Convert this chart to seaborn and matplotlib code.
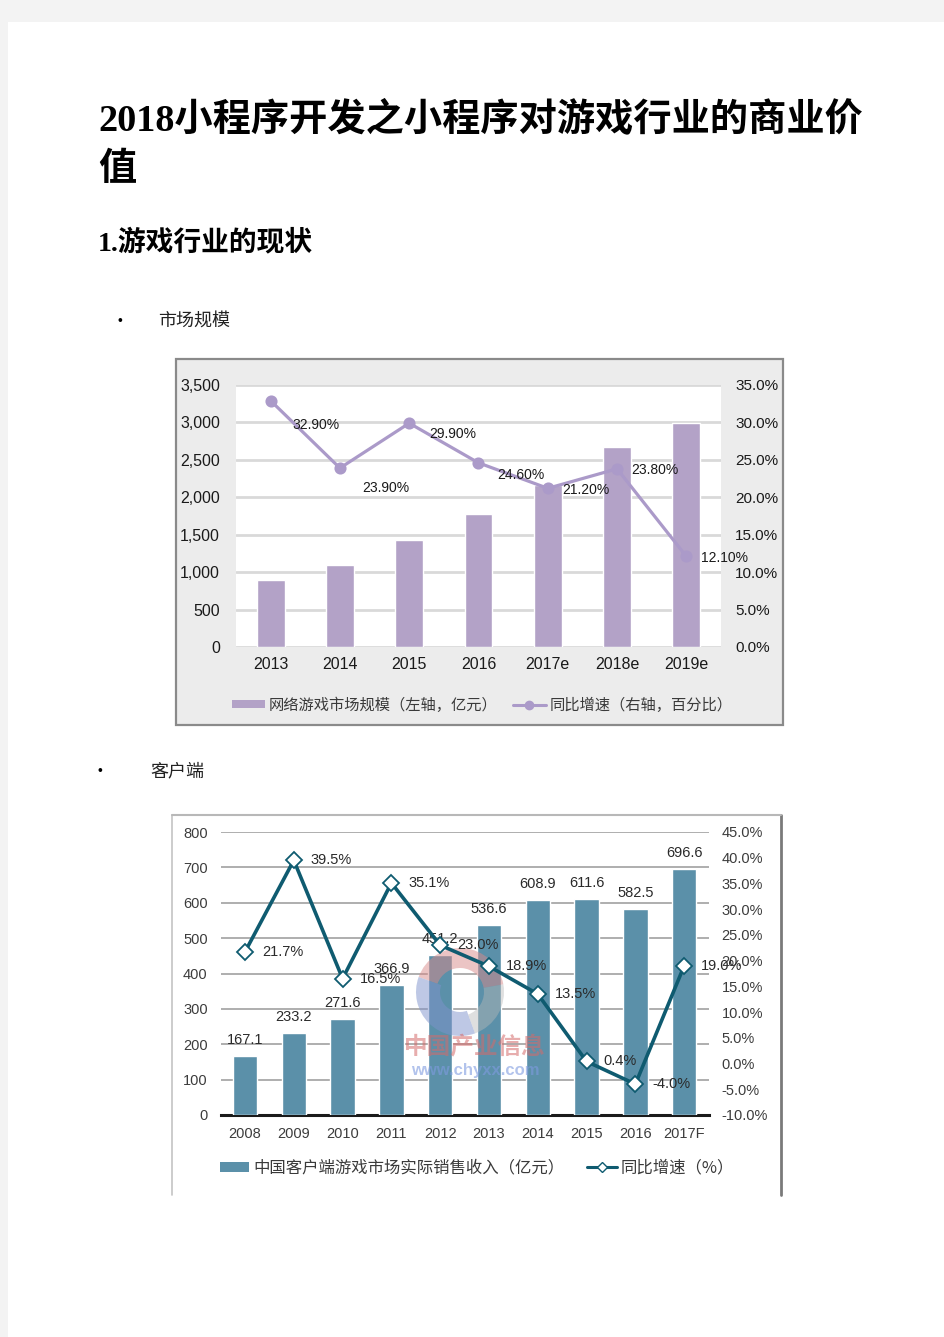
import numpy as np
import pandas as pd
import matplotlib
matplotlib.use("Agg")
import matplotlib.pyplot as plt
import seaborn as sns
from matplotlib.patches import Rectangle, Patch, Wedge
from matplotlib.lines import Line2D
from matplotlib.ticker import FuncFormatter, MultipleLocator

# ---------------- data ----------------
years1 = ["2013", "2014", "2015", "2016", "2017e", "2018e", "2019e"]
market1 = [895, 1095, 1430, 1775, 2165, 2670, 2995]          # 亿元
growth1 = [32.9, 23.9, 29.9, 24.6, 21.2, 23.8, 12.1]         # %
growth1_labels = ["32.90%", "23.90%", "29.90%", "24.60%", "21.20%", "23.80%", "12.10%"]

years2 = ["2008", "2009", "2010", "2011", "2012", "2013", "2014", "2015", "2016", "2017F"]
revenue2 = [167.1, 233.2, 271.6, 366.9, 451.2, 536.6, 608.9, 611.6, 582.5, 696.6]   # 亿元
growth2 = [21.7, 39.5, 16.5, 35.1, 23.0, 18.9, 13.5, 0.4, -4.0, 19.0]                # %

title_line1 = "2018小程序开发之小程序对游戏行业的商业价"
title_line2 = "值"
heading = "1.游戏行业的现状"
bullet1 = "市场规模"
bullet2 = "客户端"
legend1 = ["网络游戏市场规模（左轴，亿元）", "同比增速（右轴，百分比）"]
legend2 = ["中国客户端游戏市场实际销售收入（亿元）", "同比增速（%）"]

# label offsets (pixels) for chart 1 line labels
lab1_off = [(45, -24), (46, -20), (44, -11), (42, -12), (38, -2), (38, -1), (38, -2)]

# ---------------- style ----------------
sns.set_theme(style="white")
SANS = ["Liberation Sans", "Noto Sans CJK SC", "DejaVu Sans"]
CJK = ["Noto Sans CJK SC", "DejaVu Sans"]
SERIF_B = ["Liberation Serif", "Noto Sans CJK SC", "DejaVu Sans"]
plt.rcParams["font.family"] = SANS
plt.rcParams["axes.unicode_minus"] = False

W, H = 945, 1337
PT = 0.72  # points per pixel at dpi 100
fig = plt.figure(figsize=(W / 100, H / 100), dpi=100)
fig.patch.set_facecolor("#f3f3f3")


def rect(x0, y0, x1, y1):
    return [x0 / W, 1 - y1 / H, (x1 - x0) / W, (y1 - y0) / H]


def fx(x):
    return x / W


def fy(y):
    return 1 - y / H


# white page
fig.add_artist(Rectangle((fx(8), 0), 1 - fx(8), fy(22), transform=fig.transFigure,
                         facecolor="white", edgecolor="none", zorder=0))

# ---------------- page text ----------------
fig.text(fx(98), fy(120), title_line1, family=SERIF_B, weight="bold", fontsize=27.5,
         va="center", ha="left", color="black")
fig.text(fx(98), fy(170), title_line2, family=SERIF_B, weight="bold", fontsize=27.5,
         va="center", ha="left", color="black")
fig.text(fx(98), fy(243), heading, family=SERIF_B, weight="bold", fontsize=20,
         va="center", ha="left", color="black")
fig.text(fx(120), fy(321), "•", family=SANS, fontsize=10, va="center", ha="center", color="black")
fig.text(fx(158), fy(321), bullet1, family=CJK, fontsize=13, va="center", ha="left", color="#222222")
fig.text(fx(100), fy(771), "•", family=SANS, fontsize=10, va="center", ha="center", color="black")
fig.text(fx(150), fy(771), bullet2, family=CJK, fontsize=13, va="center", ha="left", color="#222222")

# ---------------- chart 1 ----------------
fig.add_artist(Rectangle((fx(176), fy(725)), fx(783) - fx(176), fy(359) - fy(725),
                         transform=fig.transFigure, facecolor="#ececec",
                         edgecolor="#8a8a8a", linewidth=1.6, zorder=1))

ax1 = fig.add_axes(rect(236, 385, 721, 647))
ax1.set_zorder(2)
bar_c1 = "#b3a2c7"
line_c1 = "#ab9ac9"
sns.barplot(x=years1, y=market1, ax=ax1, color=bar_c1, width=0.4, saturation=1, zorder=3)
ax1.set_facecolor("white")
ax1.set_ylim(0, 3500)
ax1.set_xlim(-0.5, len(years1) - 0.5)
ax1.yaxis.set_major_locator(MultipleLocator(500))
ax1.yaxis.set_major_formatter(FuncFormatter(lambda v, p: f"{int(v):,}"))
ax1.grid(axis="y", color="#d9d9d9", linewidth=2)
ax1.set_axisbelow(True)
for s in ax1.spines.values():
    s.set_visible(False)
ax1.set_xlabel("")
ax1.set_ylabel("")
ax1.tick_params(axis="y", length=0, pad=16 * PT, labelsize=11.5, labelcolor="#1a1a1a")
ax1.tick_params(axis="x", length=0, pad=10 * PT, labelsize=11.5, labelcolor="#1a1a1a")

ax1b = ax1.twinx()
sns.pointplot(x=years1, y=growth1, ax=ax1b, color=line_c1, markers="o", errorbar=None,
              markersize=7, linewidth=2.3)
ax1b.set_ylim(0, 35)
ax1b.set_xlim(-0.5, len(years1) - 0.5)
ax1b.yaxis.set_major_locator(MultipleLocator(5))
ax1b.yaxis.set_major_formatter(FuncFormatter(lambda v, p: f"{v:.1f}%"))
for s in ax1b.spines.values():
    s.set_visible(False)
ax1b.set_ylabel("")
ax1b.set_xlabel("")
ax1b.grid(False)
ax1b.tick_params(axis="y", length=0, pad=14 * PT, labelsize=11, labelcolor="#1a1a1a",
                 left=False, right=True, labelleft=False, labelright=True)
for i, (v, lab) in enumerate(zip(growth1, growth1_labels)):
    dx, dy = lab1_off[i]
    ax1b.annotate(lab, (i, v), xytext=(dx, dy), textcoords="offset pixels",
                  ha="center", va="center", fontsize=10, color="#1a1a1a", zorder=6)

h1 = [Patch(facecolor=bar_c1, edgecolor="none"),
      Line2D([], [], color=line_c1, marker="o", markersize=6, linewidth=2.2)]
fig.legend(h1, legend1, loc="center", bbox_to_anchor=(fx(482), fy(705)), ncol=2,
           frameon=False, prop={"family": CJK, "size": 11}, labelcolor="#3a3a3a",
           handlelength=2.2, handleheight=0.5, columnspacing=1.0, handletextpad=0.2)

# ---------------- chart 2 ----------------
fig.add_artist(Line2D([fx(172), fx(172)], [fy(815), fy(1195)], transform=fig.transFigure,
                      color="#c4c4c4", linewidth=1.2, zorder=1))
fig.add_artist(Line2D([fx(781), fx(781)], [fy(815), fy(1195)], transform=fig.transFigure,
                      color="#7a7a7a", linewidth=2, zorder=1))
fig.add_artist(Line2D([fx(172), fx(781)], [fy(815), fy(815)], transform=fig.transFigure,
                      color="#b8b8b8", linewidth=1.5, zorder=1))

ax2 = fig.add_axes(rect(220.6, 832, 708.6, 1115))
ax2.set_zorder(2)
bar_c2 = "#5b90a9"
line_c2 = "#0f5b70"
sns.barplot(x=years2, y=revenue2, ax=ax2, color=bar_c2, width=0.5, saturation=1, zorder=3)
ax2.set_facecolor("none")
ax2.set_ylim(0, 800)
ax2.set_xlim(-0.5, len(years2) - 0.5)
ax2.yaxis.set_major_locator(MultipleLocator(100))
ax2.grid(axis="y", color="#a8a8a8", linewidth=1.3)
ax2.set_axisbelow(True)
for k, s in ax2.spines.items():
    s.set_visible(k == "bottom")
ax2.spines["bottom"].set_color("#1a1a1a")
ax2.spines["bottom"].set_linewidth(2.2)
ax2.set_xlabel("")
ax2.set_ylabel("")
ax2.tick_params(axis="y", length=0, pad=13 * PT, labelsize=10.5, labelcolor="#3c3c3c")
ax2.tick_params(axis="x", length=0, pad=9, labelsize=10.5, labelcolor="#3c3c3c")
for i, v in enumerate(revenue2):
    ax2.annotate(f"{v:.1f}", (i, v), xytext=(0, 16), textcoords="offset pixels",
                 ha="center", va="center", fontsize=10.5, color="#2a2a2a", zorder=6)

# watermark (drawn above the bars, below the growth line)
wm_t = fig.dpi_scale_trans
cx, cy, r = 460 / 100, (H - 992) / 100, 0.44
fig.add_artist(Wedge((cx, cy), r, 10, 160, width=0.2, transform=wm_t,
                     facecolor="#d98a8a", alpha=0.5, edgecolor="none", zorder=2.5))
fig.add_artist(Wedge((cx, cy), r, 160, 290, width=0.24, transform=wm_t,
                     facecolor="#7f93cc", alpha=0.5, edgecolor="none", zorder=2.5))
fig.add_artist(Wedge((cx, cy), r, 290, 370, width=0.2, transform=wm_t,
                     facecolor="#b8b8b8", alpha=0.45, edgecolor="none", zorder=2.5))
fig.text(fx(475), fy(1047), "中国产业信息", family=CJK, weight="bold", fontsize=17,
         color="#d46a6a", alpha=0.55, ha="center", va="center", zorder=2.6)
fig.text(fx(475), fy(1070), "www.chyxx.com", family=SANS, weight="bold", fontsize=12,
         color="#7f9be0", alpha=0.6, ha="center", va="center", zorder=2.6)

ax2b = ax2.twinx()
ax2b.set_zorder(3)
ax2b.patch.set_visible(False)
sns.pointplot(x=years2, y=growth2, ax=ax2b, color=line_c2, markers="D", errorbar=None,
              markersize=8.5, linewidth=2.6, markerfacecolor="white",
              markeredgecolor=line_c2, markeredgewidth=1.3)
ax2b.set_ylim(-10, 45)
ax2b.set_xlim(-0.5, len(years2) - 0.5)
ax2b.yaxis.set_major_locator(MultipleLocator(5))
ax2b.yaxis.set_major_formatter(FuncFormatter(lambda v, p: f"{v:.1f}%"))
for s in ax2b.spines.values():
    s.set_visible(False)
ax2b.set_ylabel("")
ax2b.set_xlabel("")
ax2b.grid(False)
ax2b.tick_params(axis="y", length=0, pad=13 * PT, labelsize=10.5, labelcolor="#3c3c3c",
                 left=False, right=True, labelleft=False, labelright=True)
for i, v in enumerate(growth2):
    ax2b.annotate(f"{v:.1f}%", (i, v), xytext=(17, 0), textcoords="offset pixels",
                  ha="left", va="center", fontsize=10.5, color="#2a2a2a", zorder=6)

h2 = [Patch(facecolor=bar_c2, edgecolor="none"),
      Line2D([], [], color=line_c2, marker="D", markersize=5.5, markerfacecolor="white",
             markeredgecolor=line_c2, linewidth=2.2)]
fig.legend(h2, legend2, loc="center", bbox_to_anchor=(fx(477), fy(1168)), ncol=2,
           frameon=False, prop={"family": CJK, "size": 11.8}, labelcolor="#3a3a3a",
           handlelength=1.8, handleheight=0.6, columnspacing=1.4, handletextpad=0.25)

fig.savefig("out.png", dpi=100, facecolor=fig.get_facecolor())
